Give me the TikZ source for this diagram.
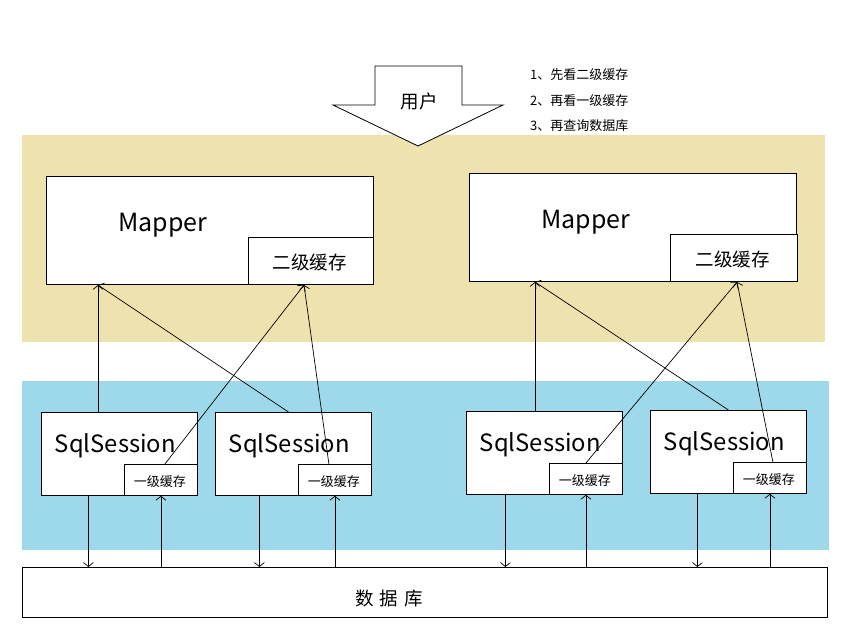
\documentclass[tikz,border=0pt]{standalone}
\usepackage{fontspec}
\newfontfamily\cjk{Noto Sans CJK SC}
\usetikzlibrary{arrows.meta, positioning}
\definecolor{tanband}{RGB}{238,226,175}
\definecolor{blueband}{RGB}{157,217,234}
\begin{document}
\begin{tikzpicture}[x=1pt, y=-1pt, >={Straight Barb[length=4pt,width=10pt]},
  every node/.style={font=\cjk, inner sep=0pt},
  box/.style={draw, line width=0.8pt, fill=white, anchor=north west},
  bigtext/.style={font=\cjk\fontsize{25}{28}\selectfont},
  sesstext/.style={font=\cjk\fontsize{23.8}{28}\selectfont},
  midtext/.style={font=\cjk\fontsize{18.5}{20}\selectfont},
  smalltext/.style={font=\cjk\fontsize{13}{15}\selectfont},
  link/.style={line width=0.7pt, ->}]
\useasboundingbox (0,0) rectangle (866,642);
\fill[tanband] (22,135) rectangle (825,342);
\fill[blueband] (22,381) rectangle (829,550);

% user
\draw[line width=0.8pt, fill=white] (375,66) -- (462,66) -- (462,105) -- (503,105)
  -- (418,146) -- (333,105) -- (375,105) -- cycle;
\node[midtext] (user) at (419,101) {用户};
\node[smalltext, anchor=west] (step1) at (530,75) {1、先看二级缓存};
\node[smalltext, anchor=west] (step2) at (530,101) {2、再看一级缓存};
\node[smalltext, anchor=west] (step3) at (530,126) {3、再查询数据库};

% mappers
\node[box, minimum width=327, minimum height=108] (m1) at (46,176) {};
\node[box, minimum width=125, minimum height=47] (mc1) at (248,237) {};
\node[midtext] (mct1) at ([xshift=-1pt, yshift=-2pt]mc1.center) {二级缓存};
\node[bigtext] (mt1) at (163,225) {Mapper};
\node[box, minimum width=327, minimum height=108] (m2) at (469,173) {};
\node[box, minimum width=127, minimum height=47] (mc2) at (670,234) {};
\node[midtext] (mct2) at ([xshift=-1pt, yshift=-2pt]mc2.center) {二级缓存};
\node[bigtext] (mt2) at (586,222) {Mapper};
\coordinate (m1in) at (98,285);
\coordinate (mc1in) at (304,285);
\coordinate (m2in) at (535,282);
\coordinate (mc2in) at (737,282);

% sessions
\node[box, minimum width=156, minimum height=83] (s1) at (41,412) {};
\node[box, minimum width=156, minimum height=83] (s2) at (215,412) {};
\node[box, minimum width=156, minimum height=83] (s3) at (466,411) {};
\node[box, minimum width=156, minimum height=83] (s4) at (650,410) {};
\foreach \i in {1,...,4} {
  \node[box, minimum width=73, minimum height=31, anchor=south east] (c\i) at (s\i.south east) {};
  \node[smalltext] (ct\i) at ([xshift=-1pt, yshift=-2pt]c\i.center) {一级缓存};
  \node[sesstext] (st\i) at ([xshift=-4pt, yshift=8pt]s\i.center) {SqlSession};
}

% database
\node[box, minimum width=805, minimum height=50] (db) at (22,567) {};
\node[midtext] (dbt) at (389,598) {数\,\,据\,\,库};

% links
\draw[link] (m1in |- s1.north) -- (m1in);
\draw[link] ([xshift=-5pt]s2.north) -- (m1in);
\draw[link] ([xshift=4pt]c1.north) -- (mc1in);
\draw[link] ([xshift=-6pt]c2.north) -- (mc1in);
\draw[link] (m2in |- s3.north) -- (m2in);
\draw[link] (s4.north) -- (m2in);
\draw[link] (c3.north) -- (mc2in);
\draw[link] ([xshift=3pt]c4.north) -- (mc2in);
\foreach \i/\dx in {1/-31, 2/-34, 3/-39, 4/-31} {
  \draw[link] ([xshift=\dx pt]s\i.south) -- ([xshift=\dx pt]s\i.south |- db.north);
  \draw[link] (c\i.south |- db.north) -- (c\i.south);
}
\end{tikzpicture}
\end{document}
